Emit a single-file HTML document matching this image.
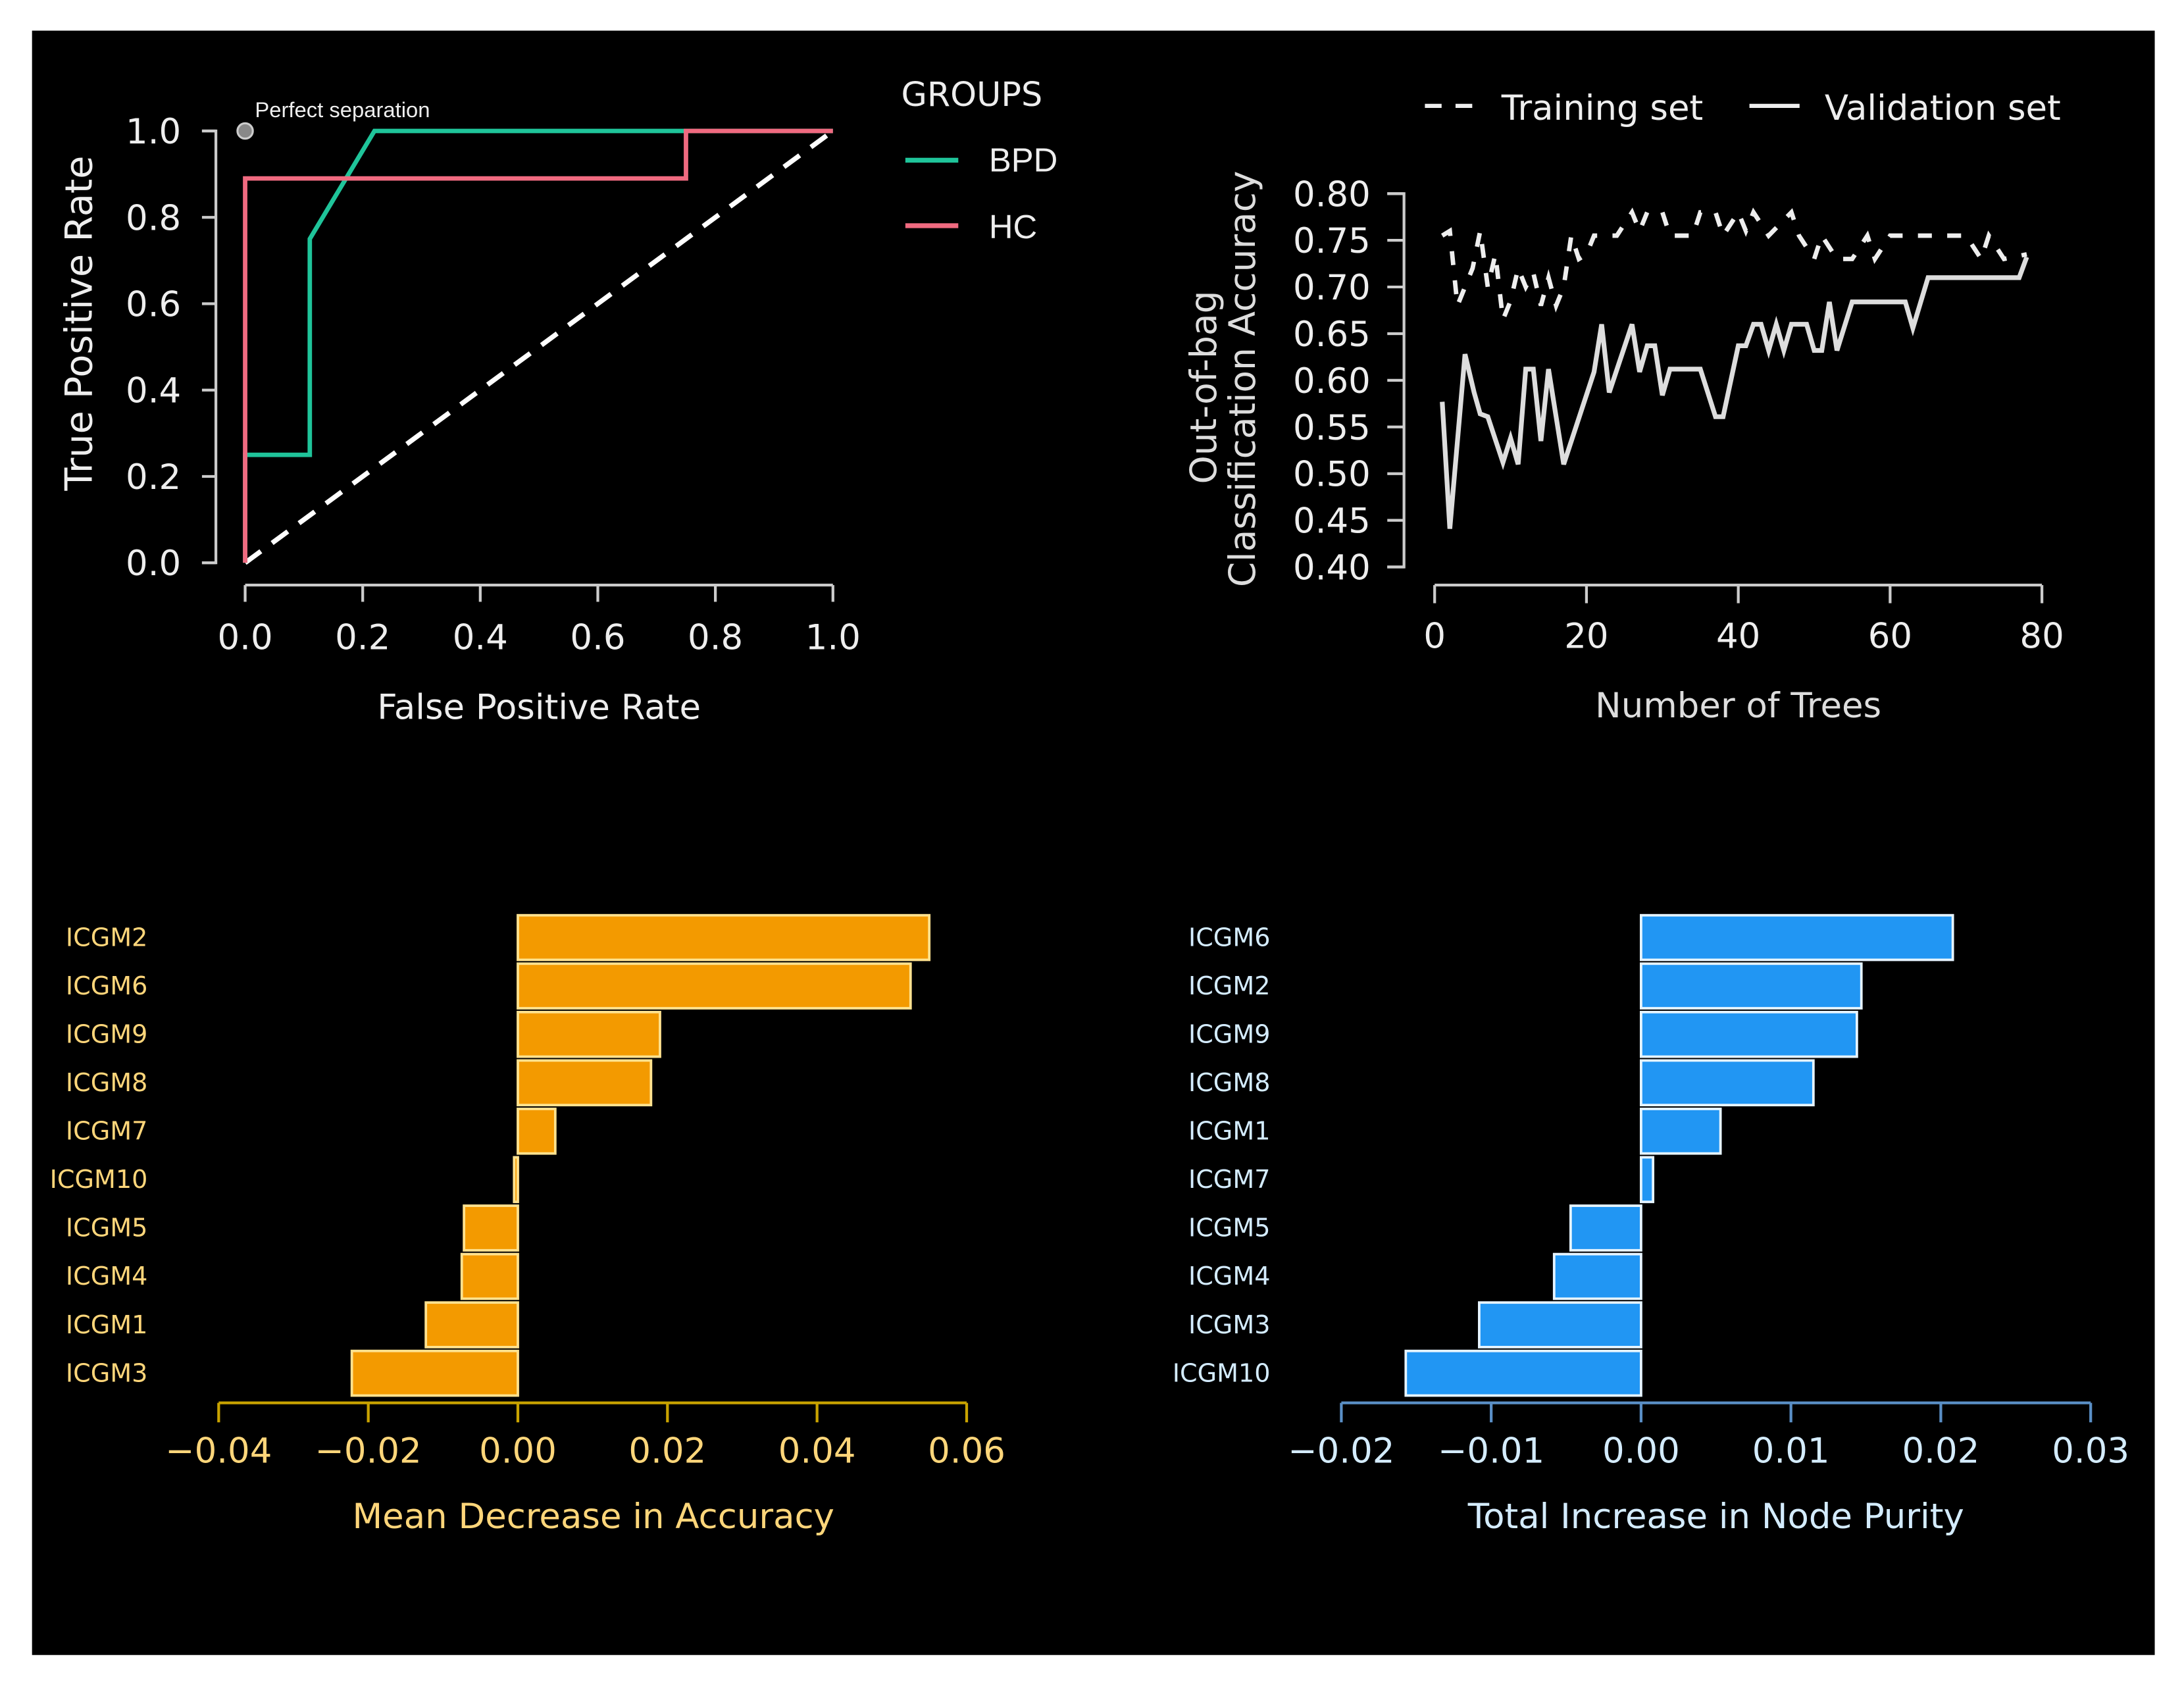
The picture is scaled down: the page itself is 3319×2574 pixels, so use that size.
<!DOCTYPE html>
<html><head><meta charset="utf-8"><style>
html,body{margin:0;padding:0;background:#fff;}
svg{display:block;font-family:"DejaVu Sans","Liberation Sans",sans-serif;}
</style></head><body>
<svg id="fig" width="3319" height="2574" viewBox="0 0 1568 1216" preserveAspectRatio="none" xmlns="http://www.w3.org/2000/svg">
<rect x="0" y="0" width="1568" height="1216" fill="#fff"/>
<rect x="23" y="22" width="1524" height="1166" fill="#000"/>
<g id="roc"></g>
<g id="oob"></g>
<g id="acc"></g>
<g id="pur"></g>
</svg>
<script>
// ROC data
const bpdFpr=[0,0,0.11,0.11,0.22,1];
const bpdTpr=[0,0.25,0.25,0.75,1,1];
const hcFpr=[0,0,0.75,0.75,1];
const hcTpr=[0,0.89,0.89,1,1];
const rocTicks=["0.0","0.2","0.4","0.6","0.8","1.0"];
// OOB data
const trainTrees=[1,2,3,4,5,6,7,8,9,10,11,12,13,14,15,16,17,18,19,20,21,22,24,26,27,28,30,31,32,34,35,37,38,40,41,42,44,47,48,50,51,53,55,57,58,60,65,70,72,73,75,78];
const trainAcc=[0.755,0.76,0.68,0.70,0.72,0.76,0.70,0.735,0.665,0.685,0.72,0.70,0.715,0.68,0.71,0.68,0.70,0.755,0.73,0.735,0.755,0.755,0.755,0.78,0.76,0.78,0.78,0.755,0.755,0.755,0.78,0.78,0.755,0.78,0.76,0.78,0.755,0.78,0.755,0.73,0.755,0.73,0.73,0.755,0.73,0.755,0.755,0.755,0.73,0.755,0.73,0.735];
const valTrees=[1,2,4,5.2,6,7,9,10,11,12,13,14,15,17,21,22,23,26,27,28,29,30,31,35,37,38,40,41,42,43,44,45,46,47,49,50,51,52,53,55,62,63,65,77,78];
const valAcc=[0.577,0.441,0.628,0.587,0.564,0.561,0.512,0.538,0.51,0.612,0.612,0.535,0.612,0.51,0.609,0.66,0.587,0.66,0.609,0.637,0.637,0.584,0.612,0.612,0.561,0.561,0.637,0.637,0.66,0.66,0.632,0.66,0.632,0.66,0.66,0.632,0.632,0.684,0.632,0.684,0.684,0.656,0.71,0.71,0.732];
const oobYTicks=[0.40,0.45,0.50,0.55,0.60,0.65,0.70,0.75,0.80];
const oobXTicks=[0,20,40,60,80];
// Importance data
const accNames=["ICGM2","ICGM6","ICGM9","ICGM8","ICGM7","ICGM10","ICGM5","ICGM4","ICGM1","ICGM3"];
const accVals=[0.055,0.0525,0.019,0.0178,0.005,-0.0005,-0.0072,-0.0075,-0.0123,-0.0222];
const accTicks=[-0.04,-0.02,0,0.02,0.04,0.06];
const purNames=["ICGM6","ICGM2","ICGM9","ICGM8","ICGM1","ICGM7","ICGM5","ICGM4","ICGM3","ICGM10"];
const purVals=[0.0208,0.0147,0.0144,0.0115,0.0053,0.0008,-0.0047,-0.0058,-0.0108,-0.0157];
const purTicks=[-0.02,-0.01,0,0.01,0.02,0.03];

const NS="http://www.w3.org/2000/svg";
function mk(parent,tag,attrs,text){const e=document.createElementNS(NS,tag);for(const k in attrs)e.setAttribute(k,attrs[k]);if(text!==undefined)e.textContent=text;parent.appendChild(e);return e;}

// ROC
(function(){
const g=document.getElementById('roc');
const sx=v=>176+v*(598-176), sy=v=>404-v*(404-94);
const ax=mk(g,'path',{d:`M145 94H155V404H145`,stroke:'#ccc','stroke-width':2,fill:'none'});

const xa=mk(g,'path',{d:`M176 420H598`,stroke:'#ccc','stroke-width':2,fill:'none'});

rocTicks.forEach((t,i)=>{const v=i/5;
 mk(g,'line',{x1:145,x2:155,y1:sy(v),y2:sy(v),stroke:'#ccc','stroke-width':2});
 const yl=mk(g,'text',{x:130,y:sy(v)+9,'text-anchor':'end','font-size':25,fill:'#eee'},t);
 
 mk(g,'line',{x1:sx(v),x2:sx(v),y1:420,y2:432,stroke:'#ccc','stroke-width':2});
 const xl=mk(g,'text',{x:sx(v),y:466,'text-anchor':'middle','font-size':25,fill:'#eee'},t);
 
});
const d=mk(g,'line',{x1:sx(0),y1:sy(0),x2:sx(1),y2:sy(1),stroke:'#fff','stroke-width':3.5,'stroke-dasharray':'14 10'});

const pts=(xs,ys)=>xs.map((x,i)=>sx(x)+','+sy(ys[i])).join(' ');
const b=mk(g,'polyline',{points:pts(bpdFpr,bpdTpr),fill:'none',stroke:'#1fc49a','stroke-width':3.2});

const h=mk(g,'polyline',{points:pts(hcFpr,hcTpr),fill:'none',stroke:'#f06a80','stroke-width':3.2});

const c=mk(g,'circle',{cx:sx(0),cy:sy(1),r:5.5,fill:'#888',stroke:'#ccc','stroke-width':1.5});

const pl=mk(g,'text',{x:183,y:84,'font-size':15.5,fill:'#eee','font-family':'Liberation Sans, sans-serif'},'Perfect separation');

const yt=mk(g,'text',{x:0,y:0,'text-anchor':'middle','font-size':27,fill:'#eee',transform:'translate(66,232) rotate(-90)'},'True Positive Rate');

const xt=mk(g,'text',{x:387,y:516,'text-anchor':'middle','font-size':25,fill:'#eee'},'False Positive Rate');

const lt=mk(g,'text',{x:647,y:76,'font-size':24,fill:'#eee'},'GROUPS');

const l1=mk(g,'line',{x1:650,x2:688,y1:115,y2:115,stroke:'#1fc49a','stroke-width':3.5});

const t1=mk(g,'text',{x:710,y:123,'font-size':24,fill:'#eee','font-family':'Liberation Sans, sans-serif'},'BPD');

const l2=mk(g,'line',{x1:650,x2:688,y1:162,y2:162,stroke:'#f06a80','stroke-width':3.5});

const t2=mk(g,'text',{x:710,y:171,'font-size':24,fill:'#eee','font-family':'Liberation Sans, sans-serif'},'HC');

})();

// OOB
(function(){
const g=document.getElementById('oob');
const sx=v=>1030+v*(1466-1030)/80, sy=v=>407-(v-0.40)*(407-139)/0.40;
const ya=mk(g,'path',{d:`M996 ${sy(0.8)}H1008V${sy(0.4)}H996`,stroke:'#ccc','stroke-width':2,fill:'none'});

const xa=mk(g,'line',{x1:sx(0),x2:sx(80),y1:420,y2:420,stroke:'#ccc','stroke-width':2});

oobYTicks.forEach(v=>{
 mk(g,'line',{x1:996,x2:1008,y1:sy(v),y2:sy(v),stroke:'#ccc','stroke-width':2});
 const t=mk(g,'text',{x:984,y:sy(v)+9,'text-anchor':'end','font-size':25,fill:'#eee'},v.toFixed(2));
 
});
oobXTicks.forEach(v=>{
 mk(g,'line',{x1:sx(v),x2:sx(v),y1:420,y2:433,stroke:'#ccc','stroke-width':2});
 const t=mk(g,'text',{x:sx(v),y:465,'text-anchor':'middle','font-size':25,fill:'#eee'},String(v));
 
});
const tr=mk(g,'polyline',{points:trainTrees.map((x,i)=>sx(x)+','+sy(trainAcc[i])).join(' '),fill:'none',stroke:'#eee','stroke-width':3.2,'stroke-dasharray':'10 11'});

const va=mk(g,'polyline',{points:valTrees.map((x,i)=>sx(x)+','+sy(valAcc[i])).join(' '),fill:'none',stroke:'#ddd','stroke-width':3.4});

const y1=mk(g,'text',{x:0,y:0,'text-anchor':'middle','font-size':26,fill:'#ddd',transform:'translate(873,278) rotate(-90)'},'Out-of-bag');

const y2=mk(g,'text',{x:0,y:0,'text-anchor':'middle','font-size':26,fill:'#ddd',transform:'translate(901,272) rotate(-90)'},'Classification Accuracy');

const xt=mk(g,'text',{x:1248,y:515,'text-anchor':'middle','font-size':25,fill:'#ddd'},'Number of Trees');

const s1=mk(g,'line',{x1:1023,x2:1060,y1:76,y2:76,stroke:'#eee','stroke-width':3,'stroke-dasharray':'12 10'});

const lt1=mk(g,'text',{x:1078,y:86,'font-size':25,fill:'#eee'},'Training set');

const s2=mk(g,'line',{x1:1256,x2:1292,y1:76,y2:76,stroke:'#eee','stroke-width':3});

const lt2=mk(g,'text',{x:1310,y:86,'font-size':25,fill:'#eee'},'Validation set');

})();

// Importance bars
function bars(id,names,vals,ticks,x0,x1,tmin,tmax,fill,stroke,txt,axisCol,title,titleX,labelX,prefix){
const g=document.getElementById(id);
const sx=v=>x0+(v-tmin)*(x1-x0)/(tmax-tmin);
const ax=mk(g,'line',{x1:x0,x2:x1,y1:1007,y2:1007,stroke:axisCol,'stroke-width':2});

ticks.forEach(v=>{
 mk(g,'line',{x1:sx(v),x2:sx(v),y1:1007,y2:1021,stroke:axisCol,'stroke-width':2});
 const s=(v<0?'\u2212':'')+Math.abs(v).toFixed(2);
 const t=mk(g,'text',{x:sx(v),y:1050,'text-anchor':'middle','font-size':25,fill:txt},s);
 
});
names.forEach((n,i)=>{
 const cy=673+i*34.75, z=sx(0), x=sx(vals[i]);
 const r=mk(g,'rect',{x:Math.min(z,x),y:cy-16,width:Math.max(Math.abs(x-z),2),height:32,fill:fill,stroke:stroke,'stroke-width':1.8});
 
 const t=mk(g,'text',{x:labelX,y:cy+6,'text-anchor':'end','font-size':18,fill:txt},n);
 
});
const tt=mk(g,'text',{x:titleX,y:1097,'text-anchor':'middle','font-size':25,fill:txt},title);

}
bars('acc',accNames,accVals,accTicks,157,694,-0.04,0.06,'#f39a00','#ffe28f','#ffd67a','#c9a300','Mean Decrease in Accuracy',426,106,'accuracy');
bars('pur',purNames,purVals,purTicks,963,1501,-0.02,0.03,'#2196f3','#e6f4ff','#d4ecff','#5a8fc6','Total Increase in Node Purity',1232,912,'purity');
</script>
</body></html>
